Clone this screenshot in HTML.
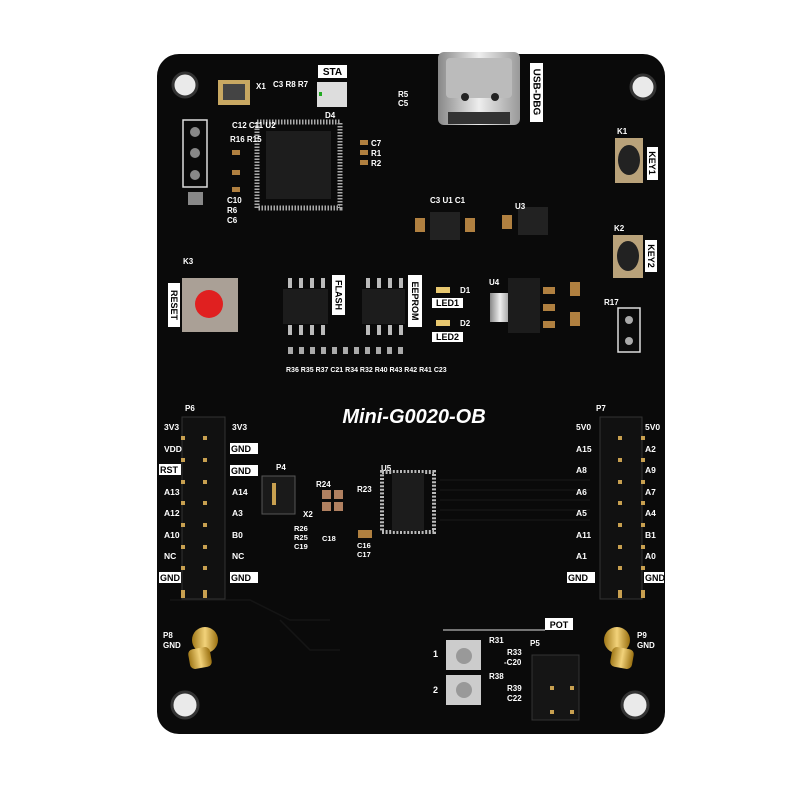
<!DOCTYPE html>
<html><head><meta charset="utf-8"><style>
html,body{margin:0;padding:0;background:#fff;}
svg{display:block}
text{font-family:"Liberation Sans",sans-serif;fill:#fff;font-weight:bold}
</style></head><body>
<svg width="800" height="800" viewBox="0 0 800 800" xmlns="http://www.w3.org/2000/svg">
<defs>
<linearGradient id="gold" x1="0" x2="1"><stop offset="0" stop-color="#a07818"/><stop offset=".5" stop-color="#f2d27a"/><stop offset="1" stop-color="#9a7010"/></linearGradient>
<linearGradient id="silver" x1="0" x2="1"><stop offset="0" stop-color="#888"/><stop offset=".5" stop-color="#eee"/><stop offset="1" stop-color="#999"/></linearGradient>
</defs>
<rect x="157" y="54" width="508" height="680" rx="22" fill="#0a0a0a"/>
<g stroke="#151515" stroke-width="1.5" fill="none">
<path d="M330 620 H290 L250 600 H170"/><path d="M340 650 H310 L280 620"/><path d="M440 480 H590 M440 490 H590 M440 500 H590 M440 510 H590 M440 520 H590"/>
</g>
<g fill="#eaeaea" stroke="#333" stroke-width="3">
<circle cx="185" cy="85" r="12"/><circle cx="643" cy="87" r="12"/><circle cx="185" cy="705" r="13"/><circle cx="635" cy="705" r="13"/>
</g>
<rect x="438" y="52" width="82" height="73" rx="6" fill="url(#silver)"/>
<rect x="446" y="58" width="66" height="40" rx="4" fill="#bbb"/>
<circle cx="465" cy="97" r="4" fill="#222"/><circle cx="495" cy="97" r="4" fill="#222"/>
<rect x="448" y="112" width="62" height="12" fill="#333"/>
<rect x="530" y="63" width="13" height="59" fill="#fff"/>
<text x="536.5" y="92" font-size="10" style="fill:#000" transform="rotate(90 536.5 92)" text-anchor="middle" dy="3">USB-DBG</text>
<rect x="218" y="80" width="32" height="25" fill="#c8a862"/><rect x="223" y="84" width="22" height="16" fill="#444"/>
<text x="256" y="89" font-size="8">X1</text>
<rect x="318" y="65" width="29" height="13" fill="#fff"/><text x="332.5" y="75" font-size="10" text-anchor="middle" style="fill:#000">STA</text>
<rect x="317" y="82" width="30" height="25" fill="#ddd"/><rect x="319" y="92" width="3" height="4" fill="#2a2"/>
<text x="325" y="118" font-size="8">D4</text>
<text x="273" y="87" font-size="8">C3 R8 R7</text>
<rect x="257" y="122" width="83" height="86" fill="none" stroke="#aaa" stroke-width="5" stroke-dasharray="1.5 1.5"/>
<rect x="266" y="131" width="65" height="68" fill="#1d1d1d"/>
<text x="232" y="128" font-size="8">C12 C11 U2</text>
<rect x="183" y="120" width="24" height="67" fill="none" stroke="#ddd" stroke-width="1.5"/>
<g fill="#888"><circle cx="195" cy="132" r="5"/><circle cx="195" cy="153" r="5"/><circle cx="195" cy="175" r="5"/><rect x="188" y="192" width="15" height="13"/></g>
<text x="227" y="203" font-size="8">C10</text><text x="227" y="213" font-size="8">R6</text><text x="227" y="223" font-size="8">C6</text>
<text x="230" y="142" font-size="8">R16 R15</text>
<g fill="#b08040"><rect x="232" y="150" width="8" height="5"/><rect x="232" y="170" width="8" height="5"/><rect x="232" y="187" width="8" height="5"/><rect x="360" y="140" width="8" height="5"/><rect x="360" y="150" width="8" height="5"/><rect x="360" y="160" width="8" height="5"/></g>
<text x="371" y="146" font-size="8">C7</text><text x="371" y="156" font-size="8">R1</text><text x="371" y="166" font-size="8">R2</text>
<text x="398" y="97" font-size="8">R5</text><text x="398" y="106" font-size="8">C5</text>
<rect x="615" y="138" width="28" height="45" fill="#b9a27a"/><ellipse cx="629" cy="160" rx="11" ry="15" fill="#222"/>
<rect x="647" y="147" width="11" height="33" fill="#fff"/><text x="652" y="163" font-size="9" style="fill:#000" transform="rotate(90 652 163)" text-anchor="middle" dy="3">KEY1</text>
<rect x="613" y="235" width="30" height="43" fill="#b9a27a"/><ellipse cx="628" cy="256" rx="11" ry="15" fill="#222"/>
<rect x="645" y="240" width="12" height="32" fill="#fff"/><text x="651" y="256" font-size="9" style="fill:#000" transform="rotate(90 651 256)" text-anchor="middle" dy="3">KEY2</text>
<text x="617" y="134" font-size="8">K1</text><text x="614" y="231" font-size="8">K2</text>
<rect x="430" y="212" width="30" height="28" fill="#222"/><rect x="415" y="218" width="10" height="14" fill="#b08040"/><rect x="465" y="218" width="10" height="14" fill="#b08040"/>
<rect x="518" y="207" width="30" height="28" fill="#222"/><rect x="502" y="215" width="10" height="14" fill="#b08040"/>
<text x="430" y="203" font-size="8">C3 U1 C1</text><text x="515" y="209" font-size="8">U3</text>
<rect x="182" y="278" width="56" height="54" fill="#aaa096"/><circle cx="209" cy="304" r="14" fill="#e02020"/>
<rect x="168" y="283" width="12" height="44" fill="#fff"/><text x="174" y="305" font-size="9" style="fill:#000" transform="rotate(90 174 305)" text-anchor="middle" dy="3">RESET</text>
<text x="183" y="264" font-size="8">K3</text>
<g fill="#bbb"><rect x="288" y="278" width="4" height="10"/><rect x="299" y="278" width="4" height="10"/><rect x="310" y="278" width="4" height="10"/><rect x="321" y="278" width="4" height="10"/>
<rect x="288" y="325" width="4" height="10"/><rect x="299" y="325" width="4" height="10"/><rect x="310" y="325" width="4" height="10"/><rect x="321" y="325" width="4" height="10"/>
<rect x="366" y="278" width="4" height="10"/><rect x="377" y="278" width="4" height="10"/><rect x="388" y="278" width="4" height="10"/><rect x="399" y="278" width="4" height="10"/>
<rect x="366" y="325" width="4" height="10"/><rect x="377" y="325" width="4" height="10"/><rect x="388" y="325" width="4" height="10"/><rect x="399" y="325" width="4" height="10"/></g>
<rect x="283" y="289" width="45" height="35" fill="#1c1c1c"/><rect x="362" y="289" width="43" height="35" fill="#1c1c1c"/>
<rect x="332" y="275" width="13" height="40" fill="#fff"/><text x="338.5" y="295" font-size="9" style="fill:#000" transform="rotate(90 338.5 295)" text-anchor="middle" dy="3">FLASH</text>
<rect x="408" y="275" width="14" height="52" fill="#fff"/><text x="415" y="301" font-size="9" style="fill:#000" transform="rotate(90 415 301)" text-anchor="middle" dy="3">EEPROM</text>
<rect x="436" y="287" width="14" height="6" fill="#e8c870"/><text x="460" y="293" font-size="8">D1</text>
<rect x="432" y="298" width="31" height="10" fill="#fff"/><text x="447.5" y="306" font-size="9" text-anchor="middle" style="fill:#000">LED1</text>
<rect x="436" y="320" width="14" height="6" fill="#e8c870"/><text x="460" y="326" font-size="8">D2</text>
<rect x="432" y="332" width="31" height="10" fill="#fff"/><text x="447.5" y="340" font-size="9" text-anchor="middle" style="fill:#000">LED2</text>
<g fill="#aaa"><rect x="288" y="347" width="5" height="7"/><rect x="299" y="347" width="5" height="7"/><rect x="310" y="347" width="5" height="7"/><rect x="321" y="347" width="5" height="7"/><rect x="332" y="347" width="5" height="7"/><rect x="343" y="347" width="5" height="7"/><rect x="354" y="347" width="5" height="7"/><rect x="365" y="347" width="5" height="7"/><rect x="376" y="347" width="5" height="7"/><rect x="387" y="347" width="5" height="7"/><rect x="398" y="347" width="5" height="7"/></g>
<text x="286" y="372" font-size="7">R36 R35 R37 C21 R34 R32 R40 R43 R42 R41 C23</text>
<rect x="490" y="293" width="20" height="29" fill="url(#silver)"/><rect x="508" y="278" width="32" height="55" fill="#1c1c1c"/>
<text x="489" y="285" font-size="8">U4</text>
<g fill="#b08040"><rect x="543" y="287" width="12" height="7"/><rect x="543" y="304" width="12" height="7"/><rect x="543" y="321" width="12" height="7"/><rect x="570" y="282" width="10" height="14"/><rect x="570" y="312" width="10" height="14"/></g>
<text x="604" y="305" font-size="8">R17</text>
<rect x="618" y="308" width="22" height="44" fill="none" stroke="#ddd" stroke-width="1.5"/><circle cx="629" cy="320" r="4" fill="#aaa"/><circle cx="629" cy="341" r="4" fill="#aaa"/>
<text x="414" y="423" font-size="20" font-style="italic" text-anchor="middle">Mini-G0020-OB</text>
<text x="185" y="411" font-size="8">P6</text>
<rect x="182" y="417" width="43" height="182" fill="#111" stroke="#333"/>
<g fill="#c8a050">
<rect x="181" y="436" width="4" height="4"/><rect x="203" y="436" width="4" height="4"/>
<rect x="181" y="458" width="4" height="4"/><rect x="203" y="458" width="4" height="4"/>
<rect x="181" y="480" width="4" height="4"/><rect x="203" y="480" width="4" height="4"/>
<rect x="181" y="501" width="4" height="4"/><rect x="203" y="501" width="4" height="4"/>
<rect x="181" y="523" width="4" height="4"/><rect x="203" y="523" width="4" height="4"/>
<rect x="181" y="545" width="4" height="4"/><rect x="203" y="545" width="4" height="4"/>
<rect x="181" y="566" width="4" height="4"/><rect x="203" y="566" width="4" height="4"/>
<rect x="181" y="590" width="4" height="8"/><rect x="203" y="590" width="4" height="8"/></g>
<g font-size="8.5">
<text x="164" y="430">3V3</text><text x="164" y="452">VDD</text><text x="164" y="495">A13</text><text x="164" y="516">A12</text><text x="164" y="538">A10</text><text x="164" y="559">NC</text>
<text x="232" y="430">3V3</text><text x="232" y="495">A14</text><text x="232" y="516">A3</text><text x="232" y="538">B0</text><text x="232" y="559">NC</text></g>
<g fill="#fff"><rect x="159" y="464" width="22" height="11"/><rect x="159" y="572" width="22" height="11"/><rect x="230" y="443" width="28" height="11"/><rect x="230" y="465" width="28" height="11"/><rect x="230" y="572" width="28" height="11"/></g>
<g font-size="9"><text x="160" y="473" style="fill:#000">RST</text><text x="160" y="581" style="fill:#000">GND</text><text x="231" y="452" style="fill:#000">GND</text><text x="231" y="474" style="fill:#000">GND</text><text x="231" y="581" style="fill:#000">GND</text></g>
<text x="276" y="470" font-size="8">P4</text>
<rect x="262" y="476" width="33" height="38" fill="#1a1a1a" stroke="#555"/><rect x="272" y="483" width="4" height="22" fill="#c8a050"/>
<g fill="#b08060"><rect x="322" y="490" width="9" height="9"/><rect x="334" y="490" width="9" height="9"/><rect x="322" y="502" width="9" height="9"/><rect x="334" y="502" width="9" height="9"/></g>
<text x="316" y="487" font-size="8">R24</text><text x="357" y="492" font-size="8">R23</text><text x="303" y="517" font-size="8">X2</text>
<text x="294" y="531" font-size="7.5">R26</text><text x="294" y="540" font-size="7.5">R25</text><text x="294" y="549" font-size="7.5">C19</text><text x="322" y="541" font-size="7.5">C18</text>
<text x="357" y="548" font-size="7.5">C16</text><text x="357" y="557" font-size="7.5">C17</text>
<rect x="358" y="530" width="14" height="8" fill="#b08040"/>
<text x="381" y="471" font-size="8">U5</text>
<rect x="382" y="472" width="52" height="60" fill="none" stroke="#bbb" stroke-width="4" stroke-dasharray="2 1.6"/>
<rect x="392" y="473" width="32" height="58" fill="#1c1c1c"/>
<text x="596" y="411" font-size="8">P7</text>
<rect x="600" y="417" width="42" height="182" fill="#111" stroke="#333"/>
<g fill="#c8a050">
<rect x="618" y="436" width="4" height="4"/><rect x="641" y="436" width="4" height="4"/>
<rect x="618" y="458" width="4" height="4"/><rect x="641" y="458" width="4" height="4"/>
<rect x="618" y="480" width="4" height="4"/><rect x="641" y="480" width="4" height="4"/>
<rect x="618" y="501" width="4" height="4"/><rect x="641" y="501" width="4" height="4"/>
<rect x="618" y="523" width="4" height="4"/><rect x="641" y="523" width="4" height="4"/>
<rect x="618" y="545" width="4" height="4"/><rect x="641" y="545" width="4" height="4"/>
<rect x="618" y="566" width="4" height="4"/><rect x="641" y="566" width="4" height="4"/>
<rect x="618" y="590" width="4" height="8"/><rect x="641" y="590" width="4" height="8"/></g>
<g font-size="8.5">
<text x="576" y="430">5V0</text><text x="576" y="452">A15</text><text x="576" y="473">A8</text><text x="576" y="495">A6</text><text x="576" y="516">A5</text><text x="576" y="538">A11</text><text x="576" y="559">A1</text>
<text x="645" y="430">5V0</text><text x="645" y="452">A2</text><text x="645" y="473">A9</text><text x="645" y="495">A7</text><text x="645" y="516">A4</text><text x="645" y="538">B1</text><text x="645" y="559">A0</text></g>
<g fill="#fff"><rect x="567" y="572" width="28" height="11"/><rect x="644" y="572" width="20" height="11"/></g>
<text x="568" y="581" font-size="9" style="fill:#000">GND</text><text x="645" y="581" font-size="9" style="fill:#000">GND</text>
<circle cx="205" cy="640" r="13" fill="url(#gold)"/><rect x="189" y="648" width="22" height="20" rx="5" fill="url(#gold)" transform="rotate(-10 200 658)"/>
<circle cx="617" cy="640" r="13" fill="url(#gold)"/><rect x="611" y="648" width="22" height="20" rx="5" fill="url(#gold)" transform="rotate(10 622 658)"/>
<text x="163" y="638" font-size="8">P8</text><text x="163" y="648" font-size="8">GND</text>
<text x="637" y="638" font-size="8">P9</text><text x="637" y="648" font-size="8">GND</text>
<line x1="443" y1="630" x2="545" y2="630" stroke="#ddd" stroke-width="1"/>
<rect x="545" y="618" width="28" height="12" fill="#fff"/><text x="559" y="628" font-size="9" text-anchor="middle" style="fill:#000">POT</text>
<rect x="446" y="640" width="35" height="30" fill="#ccc"/><circle cx="464" cy="656" r="8" fill="#999"/>
<rect x="446" y="675" width="35" height="30" fill="#ccc"/><circle cx="464" cy="690" r="8" fill="#999"/>
<text x="433" y="657" font-size="9">1</text><text x="433" y="693" font-size="9">2</text>
<text x="489" y="643" font-size="8">R31</text><text x="507" y="655" font-size="8">R33</text><text x="504" y="665" font-size="8">-C20</text>
<text x="489" y="679" font-size="8">R38</text><text x="507" y="691" font-size="8">R39</text><text x="507" y="701" font-size="8">C22</text>
<text x="530" y="646" font-size="8">P5</text>
<rect x="532" y="655" width="47" height="65" fill="#151515" stroke="#333"/>
<g fill="#c8a050"><rect x="550" y="686" width="4" height="4"/><rect x="570" y="686" width="4" height="4"/><rect x="550" y="710" width="4" height="4"/><rect x="570" y="710" width="4" height="4"/></g>
</svg>
</body></html>
